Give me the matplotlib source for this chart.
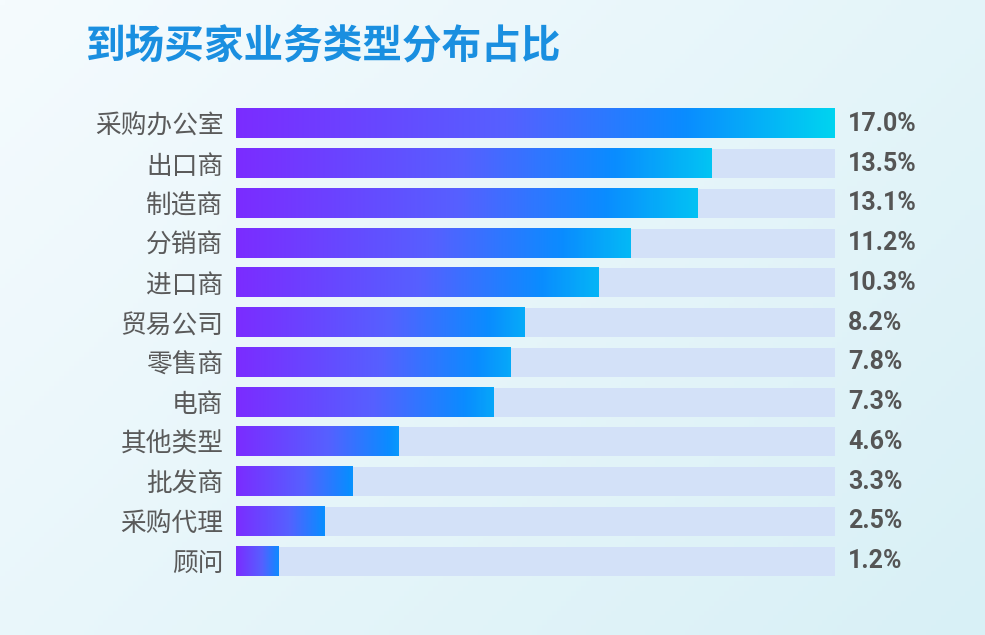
import numpy as np
import matplotlib
matplotlib.use("Agg")
import matplotlib.pyplot as plt
from matplotlib.colors import LinearSegmentedColormap

# data
categories = ["采购办公室", "出口商", "制造商", "分销商", "进口商", "贸易公司",
              "零售商", "电商", "其他类型", "批发商", "采购代理", "顾问"]
shares = [17.0, 13.5, 13.1, 11.2, 10.3, 8.2, 7.8, 7.3, 4.6, 3.3, 2.5, 1.2]
value_labels = ["17.0%", "13.5%", "13.1%", "11.2%", "10.3%", "8.2%",
                "7.8%", "7.3%", "4.6%", "3.3%", "2.5%", "1.2%"]
title = "到场买家业务类型分布占比"

W, H = 985, 635
fig = plt.figure(figsize=(W / 100, H / 100), dpi=100)

# background gradient (top-left light -> bottom-right light cyan)
bg = fig.add_axes([0, 0, 1, 1])
gx, gy = np.meshgrid(np.linspace(0, 1, 200), np.linspace(0, 1, 130))
t = (gx * 0.6 + gy * 0.4)
c0 = np.array([0xf5, 0xfb, 0xfe]) / 255
c1 = np.array([0xd8, 0xf0, 0xf6]) / 255
img = c0[None, None, :] * (1 - t[..., None]) + c1[None, None, :] * t[..., None]
bg.imshow(img, extent=[0, 1, 0, 1], aspect="auto", origin="upper")
bg.set_axis_off()

cmap = LinearSegmentedColormap.from_list(
    "bars", [(0, "#7b2cff"), (0.45, "#5660ff"), (0.75, "#0a8cff"), (1, "#00d4f0")])

vmax = max(shares)
top_px, bot_px = 104.1, 580.9
ax = fig.add_axes([236 / W, 1 - bot_px / H, (835 - 236) / W, (bot_px - top_px) / H])
ax.set_xlim(0, vmax)
ax.set_ylim(len(categories) - 0.5, -0.5)
ax.patch.set_alpha(0)

h = 0.73
y = np.arange(len(categories))
ax.barh(y, [vmax] * len(categories), height=h, color="#d3e1f8", zorder=1)

for i, v in enumerate(shares):
    end = 0.72 + 0.28 * v / vmax
    grad = cmap(np.linspace(0, end, 256))[None, :, :]
    ax.imshow(grad, extent=[0, v, i + h / 2, i - h / 2], aspect="auto",
              zorder=2, interpolation="bilinear")
    ax.annotate(value_labels[i], (vmax, i), xytext=(9.5, 0), textcoords="offset points",
                ha="left", va="center", fontsize=18, fontweight="bold",
                color="#555555", family=["Roboto", "DejaVu Sans"])

ax.set_xlim(0, vmax)
ax.set_ylim(len(categories) - 0.5, -0.5)
ax.set_yticks(y)
ax.set_yticklabels(categories, family=["Noto Sans CJK SC", "DejaVu Sans"],
                   fontsize=18.5, color="#5a5a5a")
ax.tick_params(axis="y", length=0, pad=9)
ax.set_xticks([])
for s in ax.spines.values():
    s.set_visible(False)

fig.text(86 / W, 1 - 47 / H, title, ha="left", va="center", fontsize=28.5,
         fontweight="bold", color="#1a8fe0", family=["Noto Sans CJK SC", "DejaVu Sans"])

fig.savefig("out.png", dpi=100)
